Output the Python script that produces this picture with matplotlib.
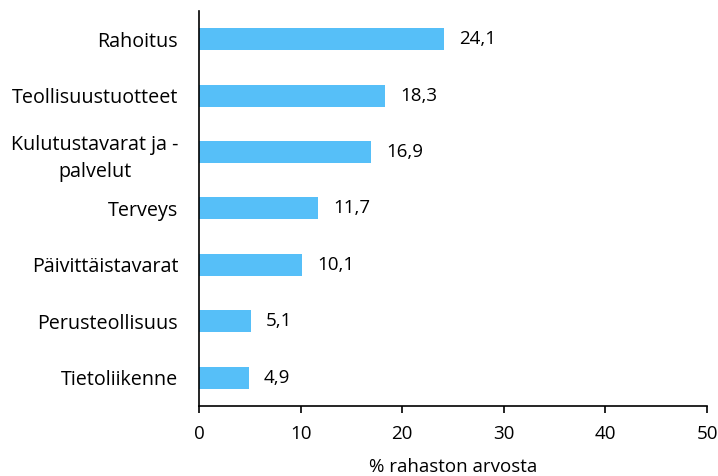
import matplotlib
matplotlib.use('Agg')
import matplotlib.pyplot as plt

categories = ['Rahoitus', 'Teollisuustuotteet', 'Kulutustavarat ja -\npalvelut',
              'Terveys', 'Päivittäistavarat', 'Perusteollisuus', 'Tietoliikenne']
values = [24.1, 18.3, 16.9, 11.7, 10.1, 5.1, 4.9]
xticks = [0, 10, 20, 30, 40, 50]

plt.rcParams['font.family'] = ['Open Sans', 'DejaVu Sans']
plt.rcParams['font.size'] = 13.5

fig = plt.figure(figsize=(7.18, 4.76), dpi=100)
ax = fig.add_axes([0.2772, 0.147, 0.7075, 0.830])

ypos = list(range(len(categories)))
ax.barh(ypos, values, height=0.39, color='#56BFF8')
for y, v in zip(ypos, values):
    ax.annotate(f'{v:.1f}'.replace('.', ','), (v, y), xytext=(11, 0),
                textcoords='offset points', va='center', ha='left')

ax.set_yticks(ypos)
ax.set_yticklabels(categories, fontsize=14.2, linespacing=1.5, multialignment='center')
ax.set_ylim(len(categories) - 0.5, -0.5)
ax.set_xlim(0, 50)
ax.set_xticks(xticks)
ax.tick_params(axis='y', length=0, pad=15)
ax.tick_params(axis='x', length=5, width=1.2, direction='out', pad=8.5)
for s in ['top', 'right']:
    ax.spines[s].set_visible(False)
ax.spines['left'].set_linewidth(1.2)
ax.spines['bottom'].set_linewidth(1.2)
ax.set_xlabel('% rahaston arvosta', labelpad=11)

fig.savefig('out.png', dpi=100)
